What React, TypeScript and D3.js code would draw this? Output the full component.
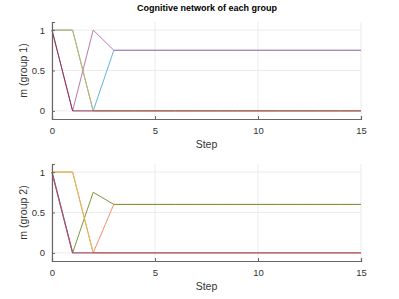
import React, { useEffect, useRef } from "react";
import * as d3 from "d3";

const steps = d3.range(0, 16);
const xTicks = [0, 5, 10, 15];
const yTicks = [0, 0.5, 1];

const fill = (head: number[], last: number) =>
  steps.map((s) => (s < head.length ? head[s] : last));

// group 1 series
const g1Blue = fill([1, 1, 0], 0.75);
const g1Pink = fill([1, 0, 1], 0.75);
const g1Yellow = fill([1, 1], 0);
const g1Maroon = fill([1], 0);

// group 2 series
const g2Orange = fill([1, 1, 0], 0.6);
const g2Green = fill([1, 0, 0.75], 0.6);
const g2Yellow = fill([1, 1], 0);
const g2Pink = fill([1], 0);

interface Series {
  values: number[];
  color: string;
  width?: number;
}

const group1: Series[] = [
  { values: g1Blue, color: "#5db4e4" },
  { values: g1Pink, color: "#bc78b0" },
  { values: g1Yellow, color: "#cdb458" },
  { values: g1Maroon, color: "#8c3453" },
];

const group2: Series[] = [
  { values: g2Orange, color: "#f0926a" },
  { values: g2Green, color: "#7f963a" },
  { values: g2Yellow, color: "#e2ba52" },
  { values: g2Pink, color: "#a85272", width: 1.4 },
];

const App: React.FC = () => {
  const svgRef = useRef<SVGSVGElement | null>(null);

  useEffect(() => {
    const width = 399, height = 299;
    const svg = d3.select(svgRef.current).attr("width", width).attr("height", height);
    svg.selectAll("*").remove();
    const font = "'Liberation Sans', Arial, sans-serif";

    svg.append("text")
      .attr("x", 207).attr("y", 11)
      .attr("text-anchor", "middle")
      .attr("font-family", font).attr("font-size", 9).attr("font-weight", "bold")
      .attr("fill", "#000")
      .text("Cognitive network of each group");

    const drawPanel = (top: number, series: Series[], ylabel: string) => {
      const left = 52, right = 361, bottom = top + 97;
      const x = d3.scaleLinear().domain([0, 15]).range([left, right]);
      const y = d3.scaleLinear().domain([-0.1, 1.1]).range([bottom, top]);
      const g = svg.append("g");

      // grid
      g.selectAll(".gx").data(xTicks).enter().append("line")
        .attr("x1", d => x(d)).attr("x2", d => x(d))
        .attr("y1", top).attr("y2", bottom)
        .attr("stroke", "#ebebeb").attr("stroke-width", 1);
      g.selectAll(".gy").data(yTicks).enter().append("line")
        .attr("x1", left).attr("x2", right)
        .attr("y1", d => y(d)).attr("y2", d => y(d))
        .attr("stroke", "#ebebeb").attr("stroke-width", 1);

      const line = d3.line<number>().x((_, i) => x(steps[i])).y(d => y(d));
      series.forEach((s) => {
        g.append("path")
          .datum(s.values)
          .attr("fill", "none")
          .attr("stroke", s.color)
          .attr("stroke-width", s.width ?? 1)
          .attr("d", line);
      });

      // axes
      const xa = g.append("g").attr("transform", `translate(0,${bottom})`)
        .call(d3.axisBottom(x).tickValues(xTicks).tickSize(-3).tickPadding(8).tickFormat(d3.format("d")));
      const ya = g.append("g").attr("transform", `translate(${left},0)`)
        .call(d3.axisLeft(y).tickValues(yTicks).tickSize(-3).tickPadding(7).tickFormat(d => (d === 0.5 ? "0.5" : String(d))));
      [xa, ya].forEach((a) => {
        a.select(".domain").attr("stroke", "#666").attr("stroke-width", 1.2);
        a.selectAll(".tick line").attr("stroke", "#666");
        a.selectAll(".tick text").attr("fill", "#333").attr("font-family", font).attr("font-size", 9.5);
      });

      g.append("text")
        .attr("x", (left + right) / 2).attr("y", bottom + 29)
        .attr("text-anchor", "middle")
        .attr("font-family", font).attr("font-size", 10.5).attr("fill", "#333")
        .text("Step");
      g.append("text")
        .attr("transform", `translate(27,${(top + bottom) / 2}) rotate(-90)`)
        .attr("text-anchor", "middle")
        .attr("font-family", font).attr("font-size", 10.5).attr("fill", "#333")
        .text(ylabel);
    };

    drawPanel(22, group1, "m (group 1)");
    drawPanel(164, group2, "m (group 2)");
  }, []);

  return <svg ref={svgRef} style={{ position: "absolute", left: 0, top: 0 }}></svg>;
};

export default App;
